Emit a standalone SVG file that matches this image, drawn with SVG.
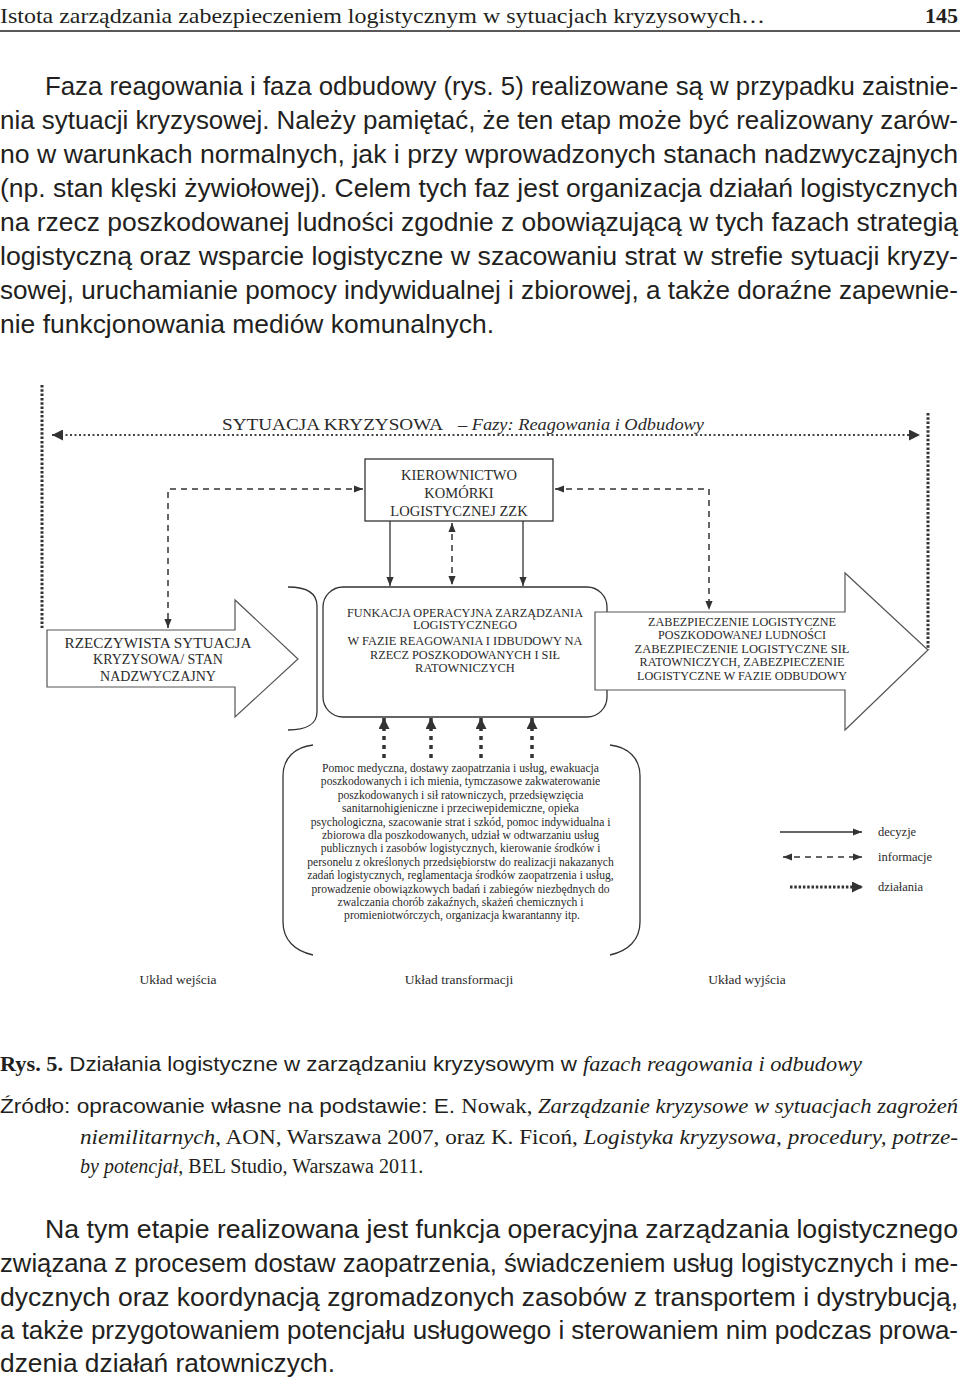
<svg xmlns="http://www.w3.org/2000/svg" width="960" height="1380" viewBox="0 0 960 1380">
<style>
.hdr{font-family:"Liberation Serif",serif;font-size:22px;fill:#231f20}
.body{font-family:"Liberation Sans",Arial,sans-serif;font-size:25px;fill:#231f20}
.cap{font-family:"Liberation Sans",Arial,sans-serif;font-size:20px;fill:#231f20}
.ser{font-family:"Liberation Serif",serif}
.it{font-family:"Liberation Serif",serif;font-style:italic}
.dg{font-family:"Liberation Serif",serif;fill:#2a2a2a}
.box{fill:#fff;stroke:#333;stroke-width:1.3}
.shape{fill:#fff;stroke:#555;stroke-width:1.2}
.brk{fill:none;stroke:#333;stroke-width:1.3}
.dec{fill:none;stroke:#333;stroke-width:1.3}
.inf{fill:none;stroke:#333;stroke-width:1.5;stroke-dasharray:6 5}
.act{fill:none;stroke:#333;stroke-width:3;stroke-dasharray:2.5 1.8}
.acth{fill:none;stroke:#444;stroke-width:2;stroke-dasharray:2 2.5}
.actu{fill:none;stroke:#333;stroke-width:3.5;stroke-dasharray:4 5}
</style>
<defs>
<marker id="ah" viewBox="0 0 10 10" refX="10" refY="5" markerWidth="9" markerHeight="9" markerUnits="userSpaceOnUse" orient="auto-start-reverse"><path d="M0,1 L10,5 L0,9 Z" fill="#333"/></marker>
<marker id="tri" viewBox="0 0 10 10" refX="10" refY="5" markerWidth="11" markerHeight="11" markerUnits="userSpaceOnUse" orient="auto-start-reverse"><path d="M0,0 L10,5 L0,10 Z" fill="#333"/></marker>
</defs>
<rect width="960" height="1380" fill="#fff"/>

<g id="header">
<text class="hdr" x="0" y="23" textLength="765" lengthAdjust="spacingAndGlyphs">Istota zarządzania zabezpieczeniem logistycznym w sytuacjach kryzysowych…</text>
<text class="hdr" x="958" y="23" text-anchor="end" font-weight="bold" font-size="24">145</text>
<line x1="0" y1="31" x2="960" y2="31" stroke="#231f20" stroke-width="1.5"/>
</g>

<g id="paragraph-top" class="body">
<text x="45" y="95" textLength="913" lengthAdjust="spacingAndGlyphs">Faza reagowania i faza odbudowy (rys. 5) realizowane są w przypadku zaistnie-</text>
<text x="0" y="129" textLength="958" lengthAdjust="spacingAndGlyphs">nia sytuacji kryzysowej. Należy pamiętać, że ten etap może być realizowany zarów-</text>
<text x="0" y="163" textLength="958" lengthAdjust="spacingAndGlyphs">no w warunkach normalnych, jak i przy wprowadzonych stanach nadzwyczajnych</text>
<text x="0" y="197" textLength="958" lengthAdjust="spacingAndGlyphs">(np. stan klęski żywiołowej). Celem tych faz jest organizacja działań logistycznych</text>
<text x="0" y="231" textLength="958" lengthAdjust="spacingAndGlyphs">na rzecz poszkodowanej ludności zgodnie z obowiązującą w tych fazach strategią</text>
<text x="0" y="265" textLength="958" lengthAdjust="spacingAndGlyphs">logistyczną oraz wsparcie logistyczne w szacowaniu strat w strefie sytuacji kryzy-</text>
<text x="0" y="299" textLength="958" lengthAdjust="spacingAndGlyphs">sowej, uruchamianie pomocy indywidualnej i zbiorowej, a także doraźne zapewnie-</text>
<text x="0" y="333" textLength="494" lengthAdjust="spacingAndGlyphs">nie funkcjonowania mediów komunalnych.</text>
</g>

<g id="title">
<text class="dg" x="222" y="430" font-size="17" textLength="221" lengthAdjust="spacingAndGlyphs">SYTUACJA KRYZYSOWA</text>
<text class="dg" x="458" y="430" font-size="17" font-style="italic" textLength="246" lengthAdjust="spacingAndGlyphs">– Fazy: Reagowania i Odbudowy</text>
</g>

<g id="connectors">
<line class="act" x1="42" y1="385" x2="42" y2="628"/>
<line class="act" x1="928" y1="413" x2="928" y2="650"/>
<line class="acth" x1="52" y1="435" x2="920" y2="435" marker-start="url(#tri)" marker-end="url(#tri)"/>
<path class="inf" d="M363,489 L168,489 L168,628" marker-start="url(#ah)" marker-end="url(#ah)"/>
<path class="inf" d="M555,489 L709,489 L709,610" marker-start="url(#ah)" marker-end="url(#ah)"/>
<line class="inf" x1="452" y1="523" x2="452" y2="585" marker-start="url(#ah)" marker-end="url(#ah)"/>
<line class="dec" x1="390" y1="521" x2="390" y2="586" marker-end="url(#ah)"/>
<line class="dec" x1="523" y1="521" x2="523" y2="586" marker-end="url(#ah)"/>
<line class="actu" x1="384" y1="758" x2="384" y2="718" marker-end="url(#tri)"/>
<line class="actu" x1="431" y1="758" x2="431" y2="718" marker-end="url(#tri)"/>
<line class="actu" x1="481" y1="758" x2="481" y2="718" marker-end="url(#tri)"/>
<line class="actu" x1="532" y1="758" x2="532" y2="718" marker-end="url(#tri)"/>
</g>

<g id="kierownictwo">
<rect class="box" x="365" y="459" width="188" height="62"/>
<text class="dg" font-size="14.5" text-anchor="middle"><tspan x="459" y="480">KIEROWNICTWO</tspan><tspan x="459" y="498">KOMÓRKI</tspan><tspan x="459" y="516">LOGISTYCZNEJ ZZK</tspan></text>
</g>

<g id="sytuacja-rzeczywista">
<polygon class="shape" points="47,630 235,630 235,600 298,659 235,717 235,687 47,687"/>
<text class="dg" font-size="14" text-anchor="middle"><tspan x="158" y="648" textLength="187" lengthAdjust="spacingAndGlyphs">RZECZYWISTA SYTUACJA</tspan><tspan x="158" y="664">KRYZYSOWA/ STAN</tspan><tspan x="158" y="681">NADZWYCZAJNY</tspan></text>
</g>

<g id="bracket-input">
<path class="brk" d="M288,587 C306,587 317,593 317,606 L317,712 C317,724 306,730 288,730"/>
</g>

<g id="funkcja">
<rect class="box" x="323" y="587" width="284" height="130" rx="20" ry="20"/>
<text class="dg" font-size="12.5" text-anchor="middle"><tspan x="465" y="617" textLength="236" lengthAdjust="spacingAndGlyphs">FUNKACJA OPERACYJNA ZARZĄDZANIA</tspan><tspan x="465" y="629">LOGISTYCZNEGO</tspan><tspan x="465" y="645" textLength="235" lengthAdjust="spacingAndGlyphs">W FAZIE REAGOWANIA I IDBUDOWY NA</tspan><tspan x="465" y="659" textLength="190" lengthAdjust="spacingAndGlyphs">RZECZ POSZKODOWANYCH I SIŁ</tspan><tspan x="465" y="672">RATOWNICZYCH</tspan></text>
</g>

<g id="zabezpieczenie">
<polygon class="shape" points="595,612 845,612 845,573 928,650 845,730 845,690 595,690"/>
<text class="dg" font-size="12.5" text-anchor="middle"><tspan x="742" y="626" textLength="188" lengthAdjust="spacingAndGlyphs">ZABEZPIECZENIE LOGISTYCZNE</tspan><tspan x="742" y="639" textLength="168" lengthAdjust="spacingAndGlyphs">POSZKODOWANEJ LUDNOŚCI</tspan><tspan x="742" y="653" textLength="215" lengthAdjust="spacingAndGlyphs">ZABEZPIECZENIE LOGISTYCZNE SIŁ</tspan><tspan x="742" y="666" textLength="205" lengthAdjust="spacingAndGlyphs">RATOWNICZYCH, ZABEZPIECZENIE</tspan><tspan x="742" y="680" textLength="210" lengthAdjust="spacingAndGlyphs">LOGISTYCZNE W FAZIE ODBUDOWY</tspan></text>
</g>

<g id="dzialania-lista">
<path class="brk" d="M313,745 C295,747 283,758 283,776 L283,922 C283,940 295,951 313,955"/>
<path class="brk" d="M610,745 C628,747 640,758 640,776 L640,922 C640,940 628,951 610,955"/>
<text class="dg" font-size="11.6" text-anchor="middle">
<tspan x="462" y="772">Pomoc medyczna, dostawy zaopatrzania i usług, ewakuacja</tspan>
<tspan x="462" y="785.4">poszkodowanych i ich mienia, tymczasowe zakwaterowanie</tspan>
<tspan x="462" y="798.8">poszkodowanych i sił ratowniczych, przedsięwzięcia</tspan>
<tspan x="462" y="812.2">sanitarnohigieniczne i przeciwepidemiczne, opieka</tspan>
<tspan x="462" y="825.6">psychologiczna, szacowanie strat i szkód, pomoc indywidualna i</tspan>
<tspan x="462" y="839">zbiorowa dla poszkodowanych, udział w odtwarzaniu usług</tspan>
<tspan x="462" y="852.4">publicznych i zasobów logistycznych, kierowanie środków i</tspan>
<tspan x="462" y="865.8">personelu z określonych przedsiębiorstw do realizacji nakazanych</tspan>
<tspan x="462" y="879.2">zadań logistycznych, reglamentacja środków zaopatrzenia i usług,</tspan>
<tspan x="462" y="892.6">prowadzenie obowiązkowych badań i zabiegów niezbędnych do</tspan>
<tspan x="462" y="906">zwalczania chorób zakaźnych, skażeń chemicznych i</tspan>
<tspan x="462" y="919.4">promieniotwórczych, organizacja kwarantanny itp.</tspan>
</text>
</g>

<g id="legend">
<line class="dec" x1="780" y1="832" x2="862" y2="832" marker-end="url(#ah)"/>
<text class="dg" x="878" y="836" font-size="12.5">decyzje</text>
<line class="inf" x1="783" y1="857" x2="862" y2="857" stroke-dasharray="5 4" marker-start="url(#ah)" marker-end="url(#ah)"/>
<text class="dg" x="878" y="861" font-size="12.5">informacje</text>
<line class="act" x1="790" y1="887" x2="863" y2="887" marker-end="url(#tri)"/>
<text class="dg" x="878" y="891" font-size="12.5">działania</text>
</g>

<g id="sekcje">
<text class="dg" x="178" y="984" font-size="13.5" text-anchor="middle">Układ wejścia</text>
<text class="dg" x="459" y="984" font-size="13.5" text-anchor="middle">Układ transformacji</text>
<text class="dg" x="747" y="984" font-size="13.5" text-anchor="middle">Układ wyjścia</text>
</g>

<g id="caption" class="cap">
<text x="0" y="1071" textLength="862" lengthAdjust="spacingAndGlyphs"><tspan class="ser" font-weight="bold">Rys. 5.</tspan> Działania logistyczne w zarządzaniu kryzysowym w <tspan class="it">fazach reagowania i odbudowy</tspan></text>
<text x="0" y="1113" textLength="958" lengthAdjust="spacingAndGlyphs">Źródło: opracowanie własne na podstawie: E. <tspan class="ser">Nowak, </tspan><tspan class="it">Zarządzanie kryzysowe w sytuacjach zagrożeń</tspan></text>
<text x="80" y="1144" textLength="878" lengthAdjust="spacingAndGlyphs"><tspan class="it">niemilitarnych</tspan><tspan class="ser">, AON, Warszawa 2007, oraz K. Ficoń, </tspan><tspan class="it">Logistyka kryzysowa, procedury, potrze-</tspan></text>
<text x="80" y="1173"><tspan class="it">by potencjał</tspan><tspan class="ser">, BEL Studio, Warszawa 2011.</tspan></text>
</g>

<g id="paragraph-bottom" class="body">
<text x="45" y="1238" textLength="913" lengthAdjust="spacingAndGlyphs">Na tym etapie realizowana jest funkcja operacyjna zarządzania logistycznego</text>
<text x="0" y="1272" textLength="958" lengthAdjust="spacingAndGlyphs">związana z procesem dostaw zaopatrzenia, świadczeniem usług logistycznych i me-</text>
<text x="0" y="1306" textLength="958" lengthAdjust="spacingAndGlyphs">dycznych oraz koordynacją zgromadzonych zasobów z transportem i dystrybucją,</text>
<text x="0" y="1339" textLength="958" lengthAdjust="spacingAndGlyphs">a także przygotowaniem potencjału usługowego i sterowaniem nim podczas prowa-</text>
<text x="0" y="1372" textLength="335" lengthAdjust="spacingAndGlyphs">dzenia działań ratowniczych.</text>
</g>
</svg>
